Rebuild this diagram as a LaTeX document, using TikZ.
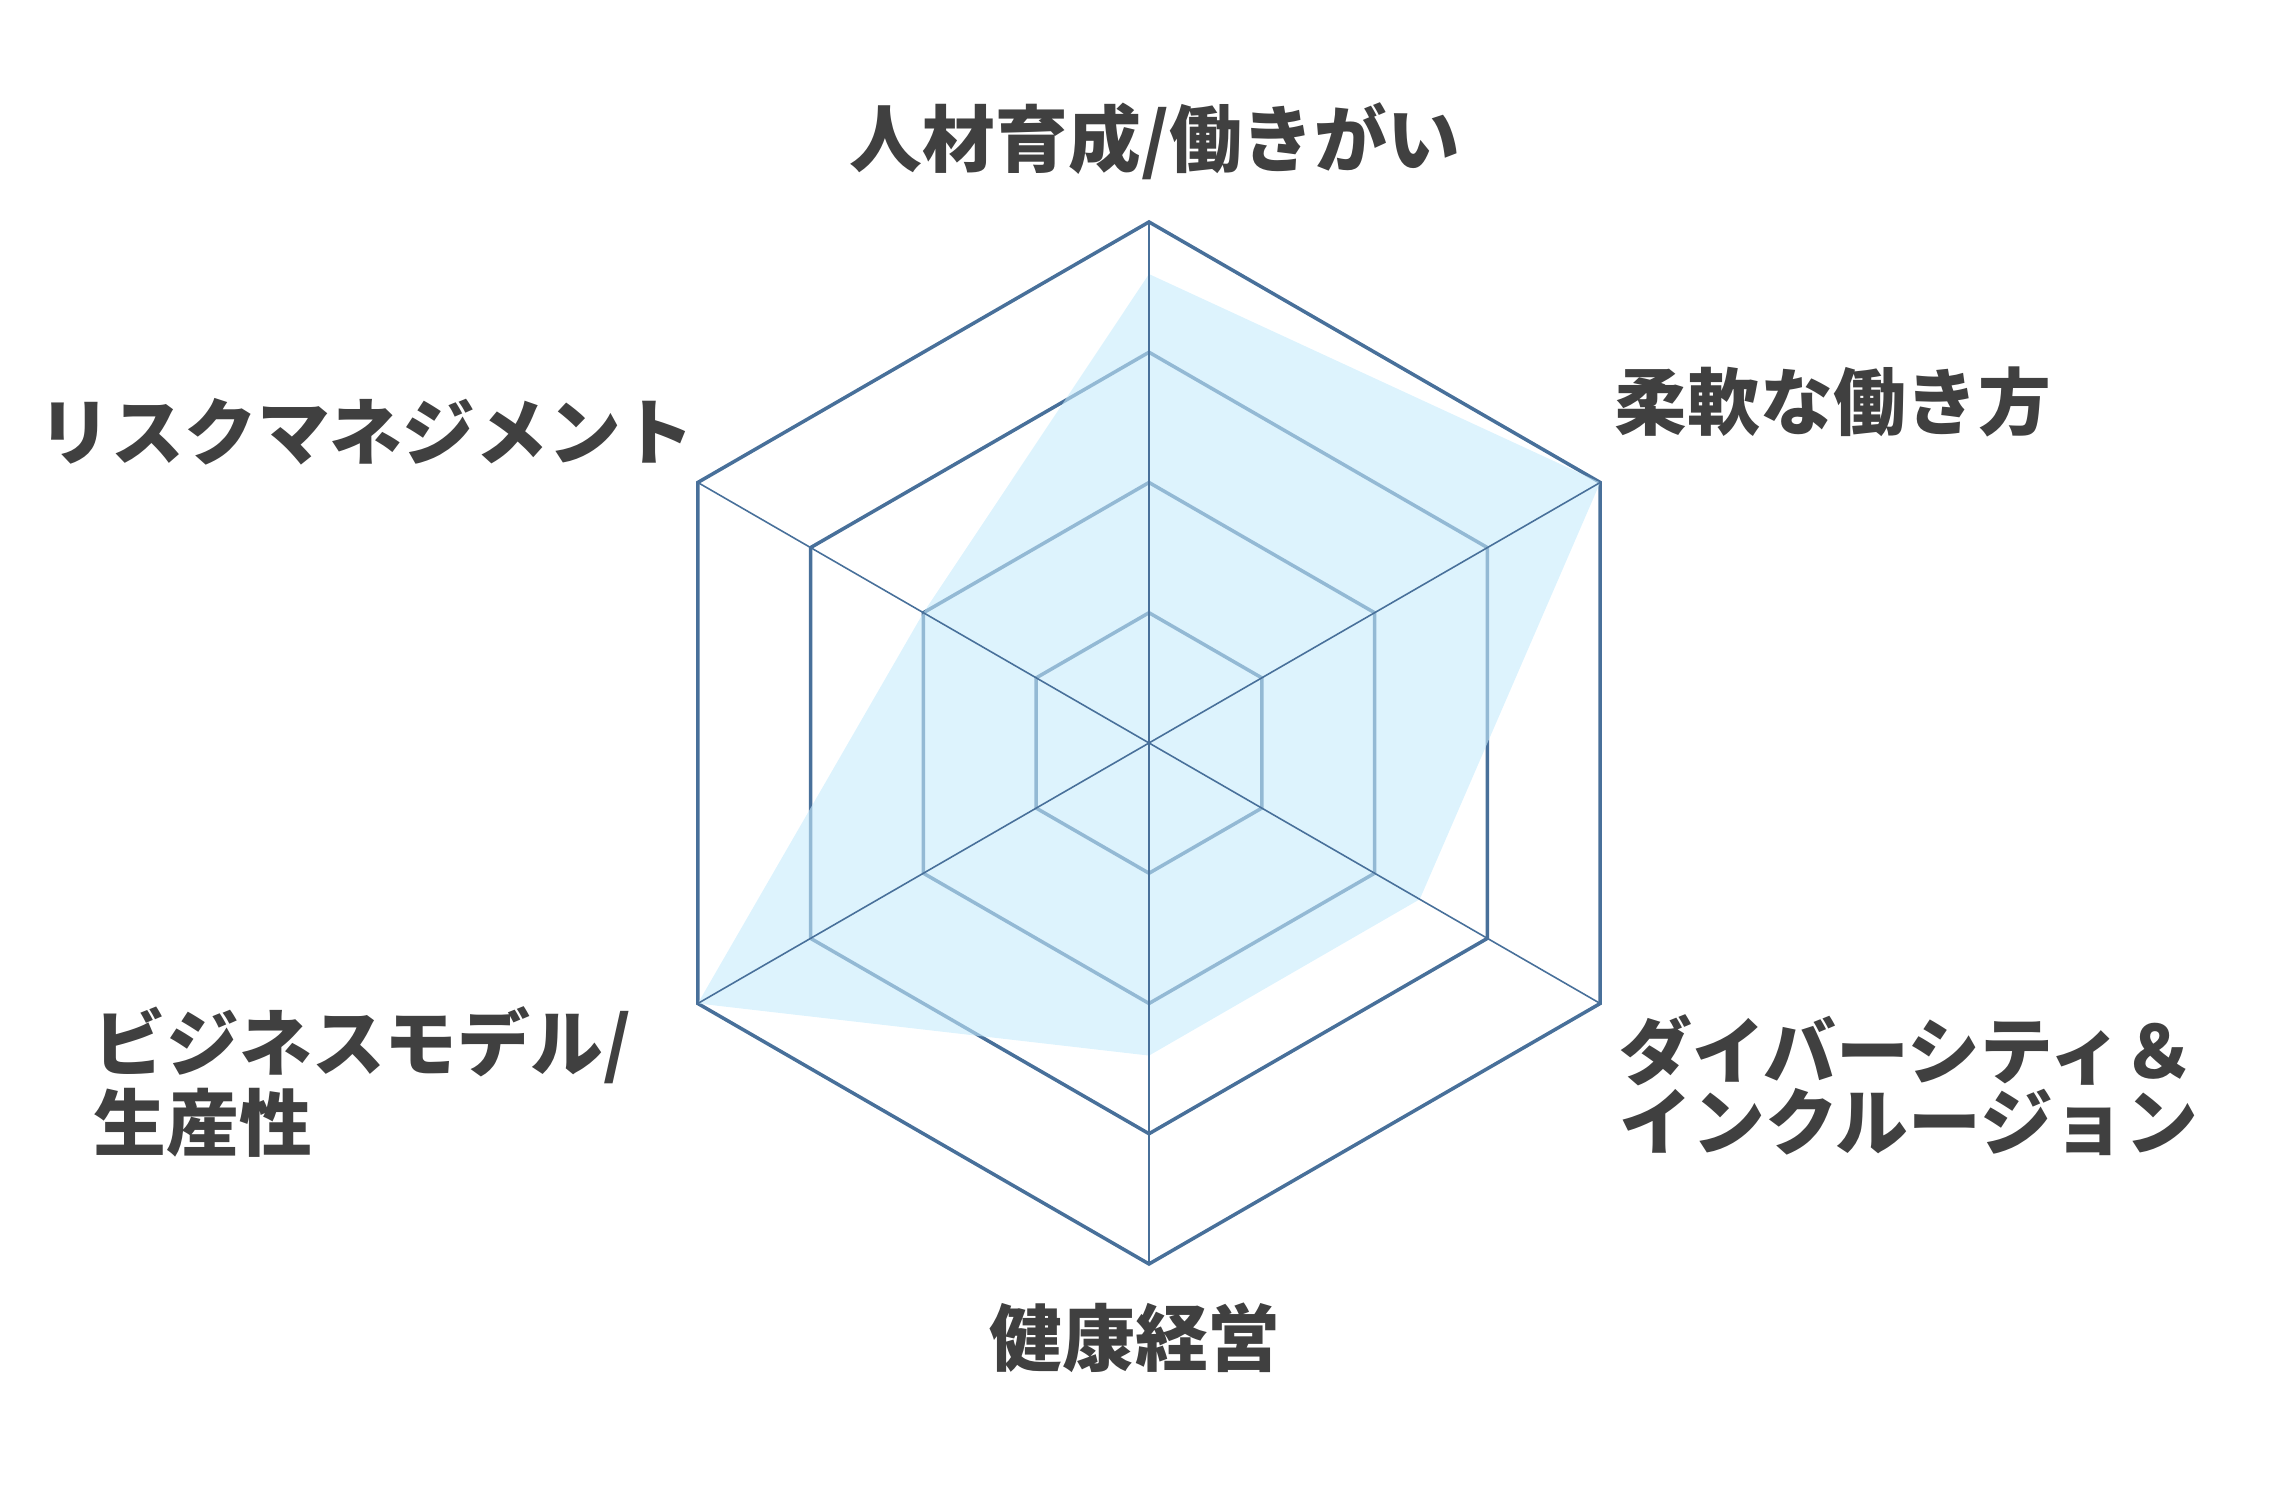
\documentclass[tikz,border=0pt]{standalone}
\usepackage{fontspec}
\usepackage{tikz}
\newfontfamily\jpfont{Noto Sans CJK JP}
\definecolor{gridblue}{HTML}{48709A}
\definecolor{areablue}{HTML}{C6EBFC}
\definecolor{labelgray}{HTML}{404040}

\begin{document}
\begin{tikzpicture}[x=0.01cm, y=0.01cm,
                        ring/.style={draw=gridblue, line width=1pt, line join=miter},
                        spoke/.style={draw=gridblue, line width=0.45pt},
                        area/.style={fill=areablue, fill opacity=0.6},
                        axislabel/.style={text=labelgray, inner sep=0pt,
                                font=\jpfont\bfseries\fontsize{20.7pt}{20pt}\selectfont}]
                        \useasboundingbox (0,0) rectangle (2285,1510);
                        \begin{scope}[shift={(1149,767)}]
                                \coordinate (o) at (0,0);
                                \foreach \a [count=\i] in {90,30,-30,-90,210,150}
                                        \coordinate (v\i) at (\a:521);
                                \foreach \r in {130.25,260.5,390.75,521}
                                        \draw[ring] (90:\r) -- (30:\r) -- (-30:\r) -- (-90:\r) -- (210:\r) -- (150:\r) -- cycle;
                                \fill[area] (90:468.9) -- (30:521) -- (-30:312.6) -- (-90:312.6) -- (210:521) -- (150:260.5) -- cycle;
                                \foreach \i in {1,...,6}
                                        \draw[spoke] (o) -- (v\i);
                        \end{scope}
                        \node[axislabel] (talent) at (1155,1369) {人材育成/働きがい};
                        \node[axislabel, anchor=west] (flexible) at (1614,1108) {柔軟な働き方};
                        \node[axislabel, anchor=west, align=left] (diversity) at (1619,425) {ダイバーシティ＆\\インクルージョン};
                        \node[axislabel] (health) at (1135,172) {健康経営};
                        \node[axislabel, anchor=west, align=left] (business) at (93,428) {ビジネスモデル/\\生産性};
                        \node[axislabel, anchor=west] (risk) at (38,1078) {リスクマネジメント};
\end{tikzpicture}
\end{document}
